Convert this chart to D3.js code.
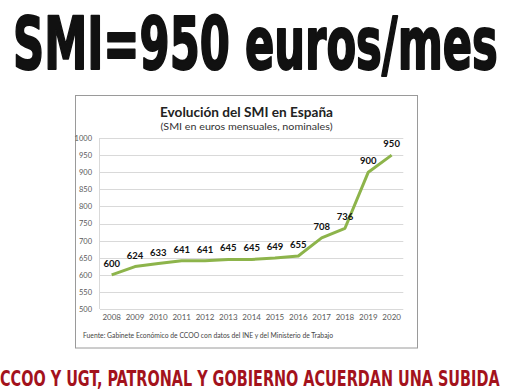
<!DOCTYPE html>
<html><head><meta charset="utf-8">
<script src="https://cdn.jsdelivr.net/npm/d3@7"></script>
<style>body{margin:0;background:#fff}svg{display:block}</style>
</head><body>
<script>
const years = ["2008","2009","2010","2011","2012","2013","2014","2015","2016","2017","2018","2019","2020"];
const smi = [600,624,633,641,641,645,645,649,655,708,736,900,950];
const yTicks = [500,550,600,650,700,750,800,850,900,950,1000];
const headline = "SMI=950 euros/mes";
const chartTitle = "Evolución del SMI en España";
const chartSubtitle = "(SMI en euros mensuales, nominales)";
const sourceText = "Fuente:  Gabinete Económico de CCOO  con datos del INE y del Ministerio de Trabajo";
const footer = "CCOO Y UGT, PATRONAL Y GOBIERNO ACUERDAN UNA SUBIDA";

const W = 512, H = 391;
const svg = d3.select("body").append("svg").attr("width", W).attr("height", H);
svg.append("rect").attr("width", W).attr("height", H).attr("fill", "#fff");

// fit text to a width by horizontal scaling
function fitText(sel, x0, y0, width) {
  const w = sel.node().getComputedTextLength();
  sel.attr("x", 0).attr("y", 0)
     .attr("transform", `translate(${x0},${y0}) scale(${width / w},1)`);
}

const condensed = "'DejaVu Sans Condensed','Liberation Sans Narrow','Liberation Sans',sans-serif";
const hl = svg.append("text")
  .attr("font-family", condensed)
  .attr("font-weight", "bold").attr("font-size", 73).attr("fill", "#111")
  .attr("stroke", "#111").attr("stroke-width", 2).attr("stroke-linejoin", "round")
  .text(headline);
fitText(hl, 13, 68.5, 485);

// chart box
svg.append("rect").attr("x", 75.5).attr("y", 95.5).attr("width", 342).attr("height", 252.5)
  .attr("fill", "#fff").attr("stroke", "#9a9a9a").attr("stroke-width", 1);

const font = "Lato, 'Open Sans', sans-serif";
svg.append("text").attr("x", 246.5).attr("y", 117).attr("text-anchor", "middle")
  .attr("font-family", font).attr("font-weight", "bold").attr("font-size", 13).attr("fill", "#222")
  .attr("textLength", 173).attr("lengthAdjust", "spacingAndGlyphs").text(chartTitle);
svg.append("text").attr("x", 246.5).attr("y", 130).attr("text-anchor", "middle")
  .attr("font-family", font).attr("font-size", 10).attr("fill", "#333")
  .attr("textLength", 172).attr("lengthAdjust", "spacingAndGlyphs").text(chartSubtitle);

const x = d3.scaleBand().domain(years).range([100, 403.3]);
const y = d3.scaleLinear().domain([500, 1000]).range([309, 138]);

const g = svg.append("g");
g.selectAll("line.grid").data(yTicks).join("line").attr("class", "grid")
  .attr("x1", 100).attr("x2", 403.3)
  .attr("y1", d => Math.round(y(d)) + 0.5).attr("y2", d => Math.round(y(d)) + 0.5)
  .attr("stroke", "#d9d9d9").attr("stroke-width", 1);
g.append("line").attr("x1", 99.5).attr("x2", 99.5).attr("y1", y(1000)).attr("y2", y(500))
  .attr("stroke", "#d9d9d9");

const yAxis = d3.axisLeft(y).tickValues(yTicks).tickFormat(d3.format("d")).tickSize(0).tickPadding(0);
const ya = svg.append("g").attr("transform", "translate(92,0)").call(yAxis);
ya.select(".domain").remove();
ya.selectAll("text").attr("font-family", font).attr("font-size", 7.5).attr("fill", "#595959");

const xAxis = d3.axisBottom(x).tickSize(0).tickPadding(0);
const xa = svg.append("g").attr("transform", "translate(0,314)").call(xAxis);
xa.select(".domain").remove();
xa.selectAll("text").attr("font-family", font).attr("font-size", 8).attr("fill", "#595959");

const line = d3.line().x((d, i) => x(years[i]) + x.bandwidth() / 2).y(d => y(d));
svg.append("path").datum(smi).attr("d", line).attr("fill", "none")
  .attr("stroke", "#8db44b").attr("stroke-width", 3).attr("stroke-linejoin", "round");

svg.selectAll("text.lbl").data(smi).join("text").attr("class", "lbl")
  .attr("x", (d, i) => x(years[i]) + x.bandwidth() / 2)
  .attr("y", d => y(d) - 8)
  .attr("text-anchor", "middle").attr("font-family", font).attr("font-weight", "bold")
  .attr("font-size", 9.5).attr("fill", "#111").text(d => d);

svg.append("text").attr("x", 83).attr("y", 337.5)
  .attr("font-family", font).attr("font-size", 6.8).attr("fill", "#444")
  .attr("textLength", 250).attr("lengthAdjust", "spacingAndGlyphs")
  .text(sourceText);

const ft = svg.append("text")
  .attr("font-family", condensed)
  .attr("font-weight", "bold").attr("font-size", 21).attr("fill", "#a3121c")
  .text(footer);
fitText(ft, 0, 386, 500);
</script>
</body></html>
